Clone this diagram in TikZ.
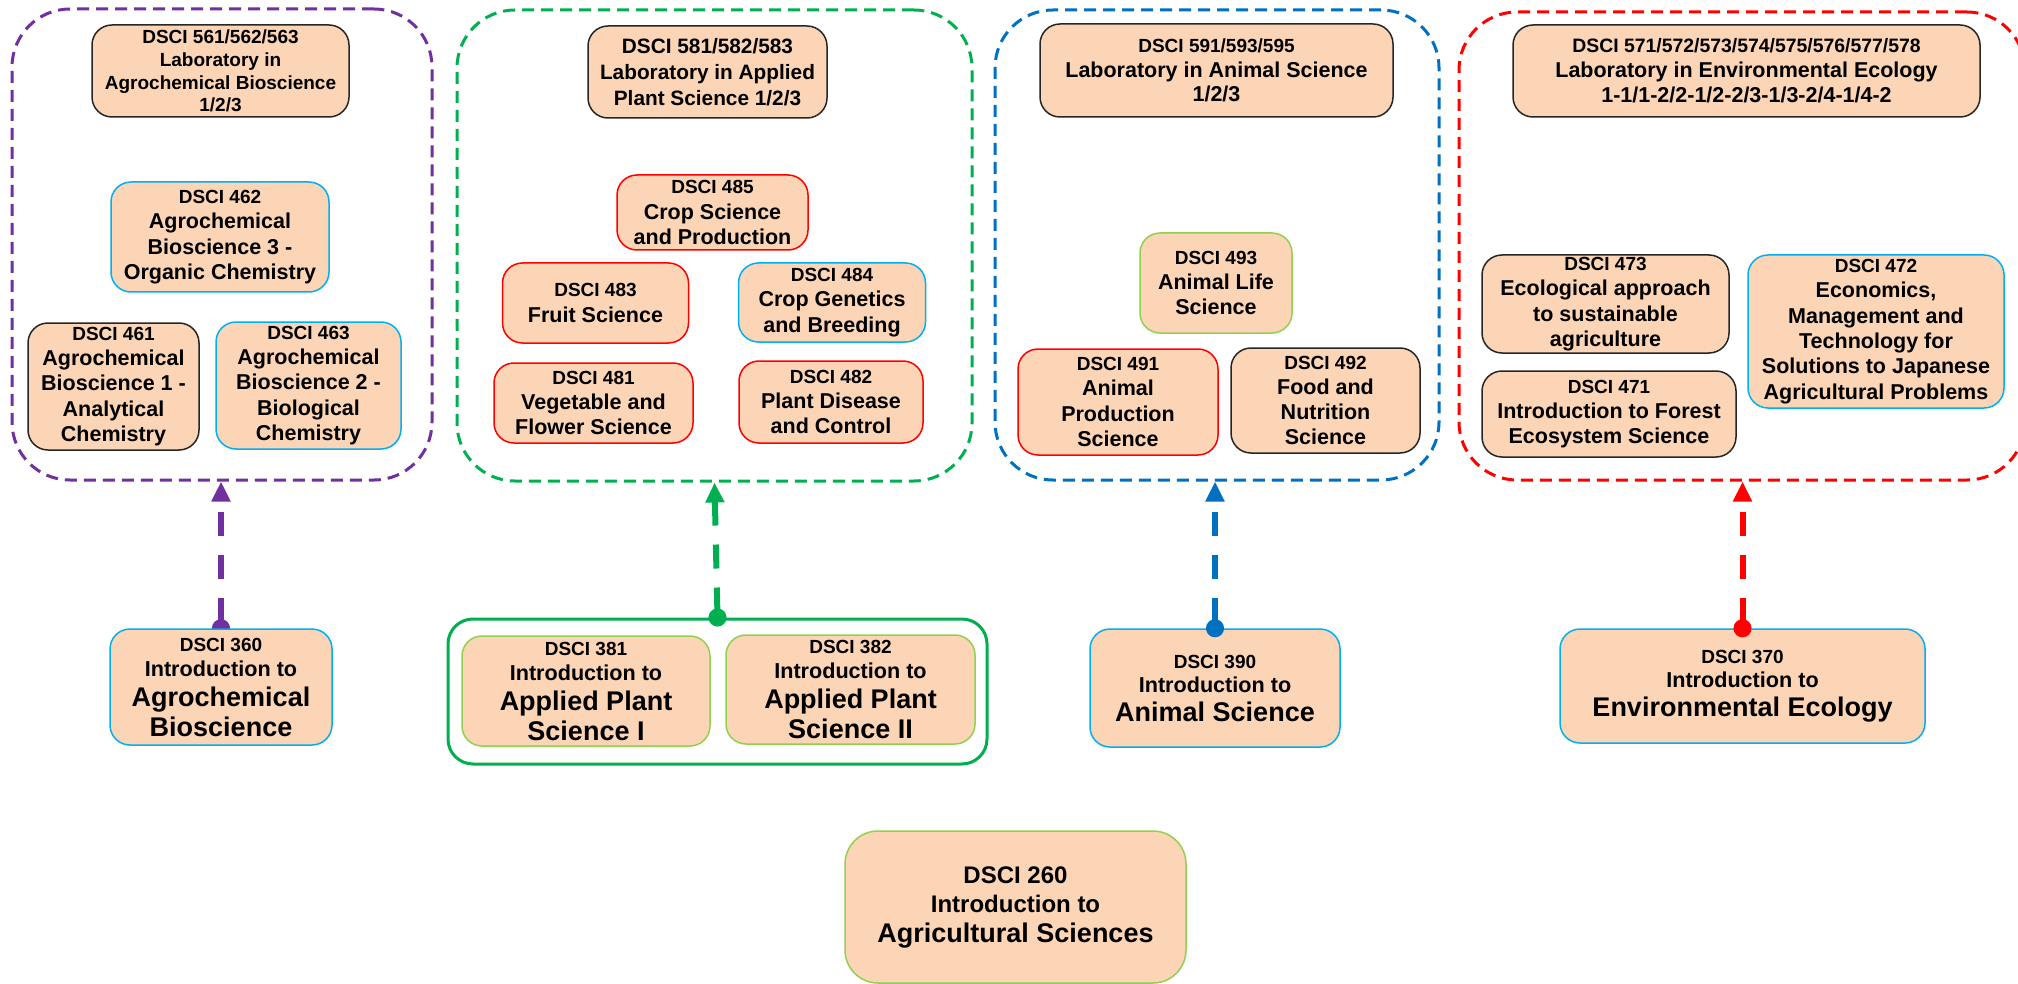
\documentclass[tikz,border=0pt]{standalone}
\usepackage{fontspec}
\setmainfont{Liberation Sans}
\usetikzlibrary{arrows.meta}
\pgfdeclarelayer{bg}
\pgfsetlayers{bg,main}
\definecolor{peach}{RGB}{251,213,181}
\definecolor{cpurple}{RGB}{112,48,160}
\definecolor{cgreen}{RGB}{0,176,80}
\definecolor{cblue}{RGB}{0,112,192}
\definecolor{cred}{RGB}{255,0,0}
\definecolor{ccyan}{RGB}{0,176,240}
\definecolor{clime}{RGB}{146,208,80}
\definecolor{cdark}{RGB}{38,38,38}
\newcommand{\sml}[1]{{\fontsize{19}{23}\selectfont #1}}
\newcommand{\medtxt}[1]{{\fontsize{21.6}{26}\selectfont #1}}
\begin{document}
\begin{tikzpicture}[x=1pt,y=-1pt,
 course/.style={draw, fill=peach, line width=1.5pt, rounded corners=20pt, align=center, inner sep=0pt, font=\bfseries\fontsize{21.5}{25.3}\selectfont},
 intro/.style={course, font=\bfseries\fontsize{27}{30}\selectfont},
 frame/.style={draw, dash pattern=on 12pt off 7pt, line width=3pt, rounded corners=58pt, inner sep=0pt},
 conn/.style={line width=6pt, dash pattern=on 24pt off 19pt, {Circle[length=18pt,width=18pt]}-{Triangle[length=20pt,width=18pt]}, shorten <=-9pt}
]
\useasboundingbox (0,0) rectangle (2018,984);
\begin{pgfonlayer}{bg}
\fill[white] (0,0) rectangle (2018,984);
\end{pgfonlayer}
% frames
\node[frame, draw=cpurple, minimum width=420pt, minimum height=471pt] (frA) at (222,244.5) {};
\node[frame, draw=cgreen, minimum width=515pt, minimum height=471pt] (frB) at (714.5,245.5) {};
\node[frame, draw=cblue, minimum width=444pt, minimum height=470pt] (frC) at (1217,245) {};
\node[frame, draw=cred, minimum width=566pt, minimum height=468pt] (frD) at (1742,246) {};
% agrochemical
\node[course, draw=cdark, minimum width=257pt, minimum height=92pt, font=\bfseries\fontsize{19}{22.7}\selectfont] (c561) at (220.5,71) {DSCI 561/562/563\\Laboratory in\\Agrochemical Bioscience\\1/2/3};
\node[course, draw=ccyan, minimum width=218pt, minimum height=110pt] (c462) at (220,237) {\sml{DSCI 462}\\Agrochemical\\Bioscience 3 -\\Organic Chemistry};
\node[course, draw=cdark, minimum width=171pt, minimum height=127pt] (c461) at (113.5,386.5) {\sml{DSCI 461}\\Agrochemical\\Bioscience 1 -\\Analytical\\Chemistry};
\node[course, draw=ccyan, minimum width=185pt, minimum height=127pt] (c463) at (308.5,385.5) {\sml{DSCI 463}\\Agrochemical\\Bioscience 2 -\\Biological\\Chemistry};
% plant
\node[course, draw=cdark, minimum width=239pt, minimum height=92pt, font=\bfseries\fontsize{20.8}{26}\selectfont] (c581) at (707.5,72) {DSCI 581/582/583\\Laboratory in Applied\\Plant Science 1/2/3};
\node[course, draw=cred, minimum width=191pt, minimum height=75pt] (c485) at (712.5,212.5) {\sml{DSCI 485}\\Crop Science\\and Production};
\node[course, draw=cred, minimum width=186pt, minimum height=80pt] (c483) at (595.5,303) {\sml{DSCI 483}\\Fruit Science};
\node[course, draw=ccyan, minimum width=187pt, minimum height=79pt] (c484) at (832,302.5) {\sml{DSCI 484}\\Crop Genetics\\and Breeding};
\node[course, draw=cred, minimum width=199pt, minimum height=80pt] (c481) at (593.5,403) {\sml{DSCI 481}\\Vegetable and\\Flower Science};
\node[course, draw=cred, minimum width=184pt, minimum height=82pt] (c482) at (831,402) {\sml{DSCI 482}\\Plant Disease\\and Control};
% animal
\node[course, draw=cdark, minimum width=353pt, minimum height=93pt, font=\bfseries\fontsize{21.5}{24.3}\selectfont] (c591) at (1216.5,70.5) {\sml{DSCI 591/593/595}\\Laboratory in Animal Science\\1/2/3};
\node[course, draw=clime, minimum width=152pt, minimum height=100pt] (c493) at (1216,283) {\sml{DSCI 493}\\Animal Life\\Science};
\node[course, draw=cred, minimum width=200pt, minimum height=106pt] (c491) at (1118,402) {\sml{DSCI 491}\\Animal\\Production\\Science};
\node[course, draw=cdark, minimum width=189pt, minimum height=105pt] (c492) at (1325.5,400.5) {\sml{DSCI 492}\\Food and\\Nutrition\\Science};
% environmental
\node[course, draw=cdark, minimum width=467pt, minimum height=92pt, font=\bfseries\fontsize{21.5}{25}\selectfont] (c571) at (1746.5,71) {{\fontsize{19.4}{25}\selectfont DSCI 571/572/573/574/575/576/577/578}\\Laboratory in Environmental Ecology\\1-1/1-2/2-1/2-2/3-1/3-2/4-1/4-2};
\node[course, draw=cdark, minimum width=247pt, minimum height=98pt] (c473) at (1605.5,304) {\sml{DSCI 473}\\Ecological approach\\to sustainable\\agriculture};
\node[course, draw=cdark, minimum width=254pt, minimum height=86pt] (c471) at (1609,414) {\sml{DSCI 471}\\Introduction to Forest\\Ecosystem Science};
\node[course, draw=ccyan, minimum width=256pt, minimum height=153pt] (c472) at (1876,331.5) {\sml{DSCI 472}\\Economics,\\Management and\\Technology for\\Solutions to Japanese\\Agricultural Problems};
% introductions
\node[intro, draw=ccyan, minimum width=222pt, minimum height=116pt] (c360) at (221,687) {\sml{DSCI 360}\\[-5pt]\medtxt{Introduction to}\\Agrochemical\\Bioscience};
\node[draw=cgreen, line width=3pt, rounded corners=25pt, inner sep=0pt, minimum width=539pt, minimum height=145pt] (grp) at (717.5,691.5) {};
\node[intro, draw=clime, minimum width=248pt, minimum height=110pt] (c381) at (586,691) {\sml{DSCI 381}\\[-5pt]\medtxt{Introduction to}\\Applied Plant\\Science I};
\node[intro, draw=clime, minimum width=249pt, minimum height=109pt] (c382) at (850.5,689.5) {\sml{DSCI 382}\\[-5pt]\medtxt{Introduction to}\\Applied Plant\\Science II};
\node[intro, draw=ccyan, minimum width=250pt, minimum height=118pt] (c390) at (1215,688) {\sml{DSCI 390}\\[-6pt]\medtxt{Introduction to}\\[-1pt]Animal Science};
\node[intro, draw=ccyan, minimum width=365pt, minimum height=114pt] (c370) at (1742.5,686) {\sml{DSCI 370}\\[-6pt]\medtxt{Introduction to}\\[-1pt]Environmental Ecology};
\node[intro, draw=clime, rounded corners=33pt, minimum width=341pt, minimum height=152pt] (c260) at (1015.5,907) {{\fontsize{24}{30}\selectfont DSCI 260}\\[-1pt]{\fontsize{24}{30}\selectfont Introduction to}\\Agricultural Sciences};
% connectors
\begin{pgfonlayer}{bg}
\draw[conn, cpurple] (c360.north) -- (c360.north |- frA.south);
\end{pgfonlayer}
\draw[conn, cgreen] (grp.north) -- (frB.south);
\draw[conn, cblue] (c390.north) -- (c390.north |- frC.south);
\draw[conn, cred] (c370.north) -- (c370.north |- frD.south);
\end{tikzpicture}
\end{document}
